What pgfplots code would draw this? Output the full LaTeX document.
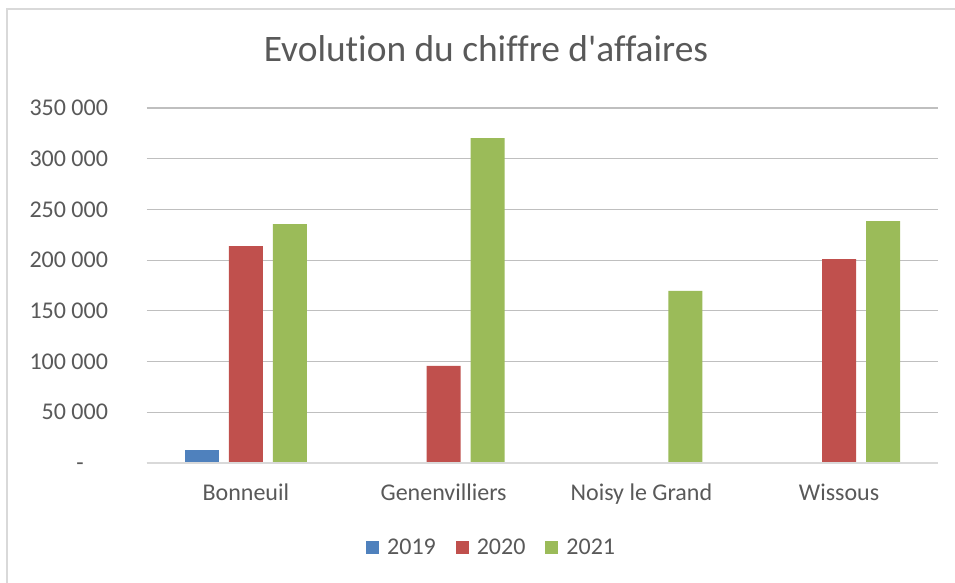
\documentclass[border=0pt]{standalone}
\usepackage{pgfplots}
\pgfplotsset{compat=1.18}
\usepackage{fontspec}
\setmainfont{Carlito}[Ligatures={NoCommon}]
\definecolor{c19}{HTML}{4F81BD}
\definecolor{c20}{HTML}{C0504D}
\definecolor{c21}{HTML}{9BBB59}
\definecolor{txt}{HTML}{595959}
\definecolor{grid}{HTML}{D9D9D9}
\begin{document}
\begin{tikzpicture}[x=1pt,y=1pt]
\path[use as bounding box] (0,0) rectangle (477.5,291.5);
\fill[white] (0,0) rectangle (477.5,291.5);
\draw[grid,line width=1.2pt] (3.6,0) -- (3.6,287) -- (477.5,287);
\node[text=txt,font=\fontsize{18.7}{20}\selectfont,anchor=base] at (243,260.5) {Evolution du chiffre d\textquotesingle affaires};
\begin{axis}[
  at={(73.5pt,60pt)}, anchor=south west,
  scale only axis, width=395.5pt, height=177.5pt,
  ybar, bar width=17pt,
  xmin=-0.5, xmax=3.5, ymin=0, ymax=350000,
  xtick={0,1,2,3},
  xticklabels={Bonneuil,Genenvilliers,Noisy le Grand,Wissous},
  ytick={0,50000,100000,150000,200000,250000,300000,350000},
  yticklabels={{-\phantom{00}},{50 000},{100 000},{150 000},{200 000},{250 000},{300 000},{350 000}},
  scaled y ticks=false,
  major tick length=0pt,
  tick style={draw=none},
  ymajorgrids=true, xmajorgrids=false,
  grid style={grid, line width=0.6pt},
  axis line style={draw=none},
  yticklabel style={text=txt, font=\fontsize{12}{14}\selectfont, anchor=east, xshift=-16pt},
  xticklabel style={text=txt, font=\fontsize{12}{14}\selectfont, anchor=base, yshift=-19pt},
  enlargelimits=false,
  clip=false,
  legend columns=3,
  legend style={at={(0.437,-0.239)}, anchor=center, draw=none, fill=none,
    font=\fontsize{12}{14}\selectfont, text=txt,
    /tikz/every even column/.append style={column sep=8pt}},
  legend image code/.code={\fill[#1] (0pt,-3.2pt) rectangle (6.5pt,3.3pt); \path (8.5pt,0pt);},
]
\addplot[fill=c19, draw=none, bar shift=-22pt] coordinates {(0,12800)};
\addplot[fill=c20, draw=none, bar shift=0pt] coordinates {(0,213800) (1,95800) (3,201100)};
\addplot[fill=c21, draw=none, bar shift=22pt] coordinates {(0,235600) (1,320200) (2,169600) (3,238400)};
\legend{2019,2020,2021}
\draw[grid, line width=1.2pt] (rel axis cs:0,0) -- (rel axis cs:1,0);
\end{axis}
\end{tikzpicture}
\end{document}
